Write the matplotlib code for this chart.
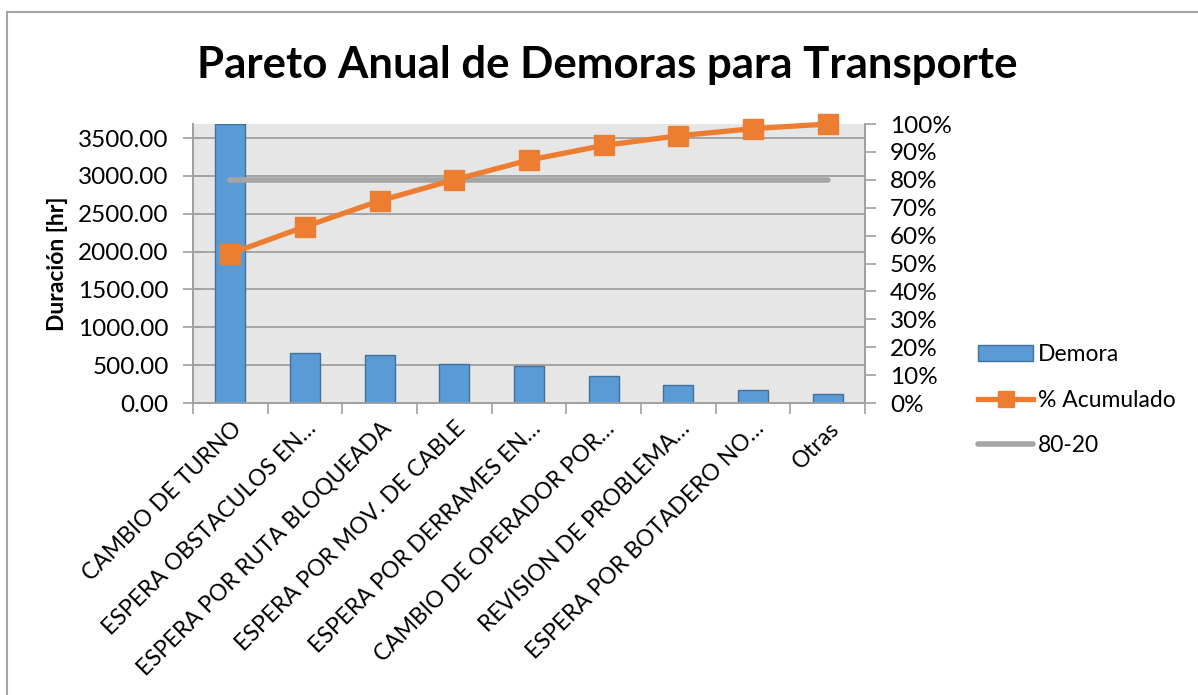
import matplotlib.pyplot as plt
import matplotlib.patches as mpatches
import matplotlib.transforms as mtransforms
from matplotlib.lines import Line2D
from matplotlib.ticker import FuncFormatter
import numpy as np

plt.rcParams['font.family'] = ['Lato', 'DejaVu Sans']

# Data
categorias = ['CAMBIO DE TURNO', 'ESPERA OBSTACULOS EN…', 'ESPERA POR RUTA BLOQUEADA',
              'ESPERA POR MOV. DE CABLE', 'ESPERA POR DERRAMES EN…', 'CAMBIO DE OPERADOR POR…',
              'REVISION DE PROBLEMA…', 'ESPERA POR BOTADERO NO…', 'Otras']
demora = [3685, 664, 638, 519, 485, 361, 238, 176, 115]
linea_80_20 = [0.8] * len(categorias)

acumulado = np.cumsum(demora) / np.sum(demora)

fig = plt.figure(figsize=(11.98, 6.95), dpi=100)
W, H = 1198, 695

# chart area border (runs off right/bottom edges like the screenshot)
fig.patches.append(mpatches.Rectangle((7 / W, -0.05), 1.1, 1 - 12 / H + 0.05,
                                      transform=fig.transFigure, fill=False,
                                      edgecolor='#A6A6A6', lw=1.5))

ax = fig.add_axes([193 / W, 1 - 403 / H, (865 - 193) / W, (403 - 124) / H])
ax2 = ax.twinx()

x = np.arange(len(categorias))
ax.set_facecolor('#E6E6E6')
ax.bar(x, demora, width=0.4, color='#5B9BD5', edgecolor='#41719C', lw=1, zorder=3)
ax.set_xlim(-0.5, len(categorias) - 0.5)
ax.set_ylim(0, max(demora))
ax.set_yticks(np.arange(0, 3501, 500))
ax.yaxis.set_major_formatter(FuncFormatter(lambda v, p: f'{v:.2f}'))
ax.grid(axis='y', color='#A0A0A0', lw=1.3, zorder=0)
ax.set_axisbelow(True)

ax.set_xticks(x)
ax.set_xticklabels(categorias, rotation=45, ha='right', va='center',
                   rotation_mode='anchor', fontsize=16.5)
ax.tick_params(axis='x', length=0, pad=16)
shift = mtransforms.ScaledTranslation(8 / 100, 0, fig.dpi_scale_trans)
for lbl in ax.get_xticklabels():
    lbl.set_transform(lbl.get_transform() + shift)
ax.set_xticks(np.arange(-0.5, len(categorias)), minor=True)
ax.tick_params(axis='x', which='minor', length=8, color='#A0A0A0', width=1.2)
ax.tick_params(axis='y', direction='inout', length=15, color='#A0A0A0', width=1.2,
               labelsize=17.5, pad=10)

ax2.plot(x, linea_80_20, color='#A5A5A5', lw=4, solid_capstyle='round', zorder=3)
ax2.plot(x, acumulado, color='#ED7D31', lw=3.8, marker='s', markersize=14,
         solid_capstyle='round', zorder=4, clip_on=False)
ax2.set_ylim(0, 1)
ax2.set_yticks(np.arange(0, 1.01, 0.1))
ax2.yaxis.set_major_formatter(FuncFormatter(lambda v, p: f'{v * 100:.0f}%'))
ax2.tick_params(axis='y', length=8, color='#A0A0A0', width=1.2, labelsize=17.5, pad=10)

for a in (ax, ax2):
    a.spines['top'].set_visible(False)
    for s in ('left', 'right', 'bottom'):
        a.spines[s].set_color('#A0A0A0')
        a.spines[s].set_linewidth(1.2)

ax.set_ylabel('Duración [hr]', fontsize=16.5, fontweight='bold')
ax.yaxis.set_label_coords(-0.186, 0.5)

fig.text(607 / W, 1 - 65 / H, 'Pareto Anual de Demoras para Transporte',
         ha='center', va='center', fontsize=31.5, fontweight='bold')

handles = [mpatches.Patch(facecolor='#5B9BD5', edgecolor='#41719C'),
           Line2D([], [], color='#ED7D31', lw=3.8, marker='s', markersize=12),
           Line2D([], [], color='#A5A5A5', lw=4, solid_capstyle='round')]
fig.legend(handles, ['Demora', '% Acumulado', '80-20'], loc='upper left',
           bbox_to_anchor=(967 / W, 1 - 333 / H), frameon=False, fontsize=16.5,
           handlelength=2.4, handletextpad=0.2, labelspacing=1.05, borderpad=0)

fig.savefig('out.png', dpi=100)
